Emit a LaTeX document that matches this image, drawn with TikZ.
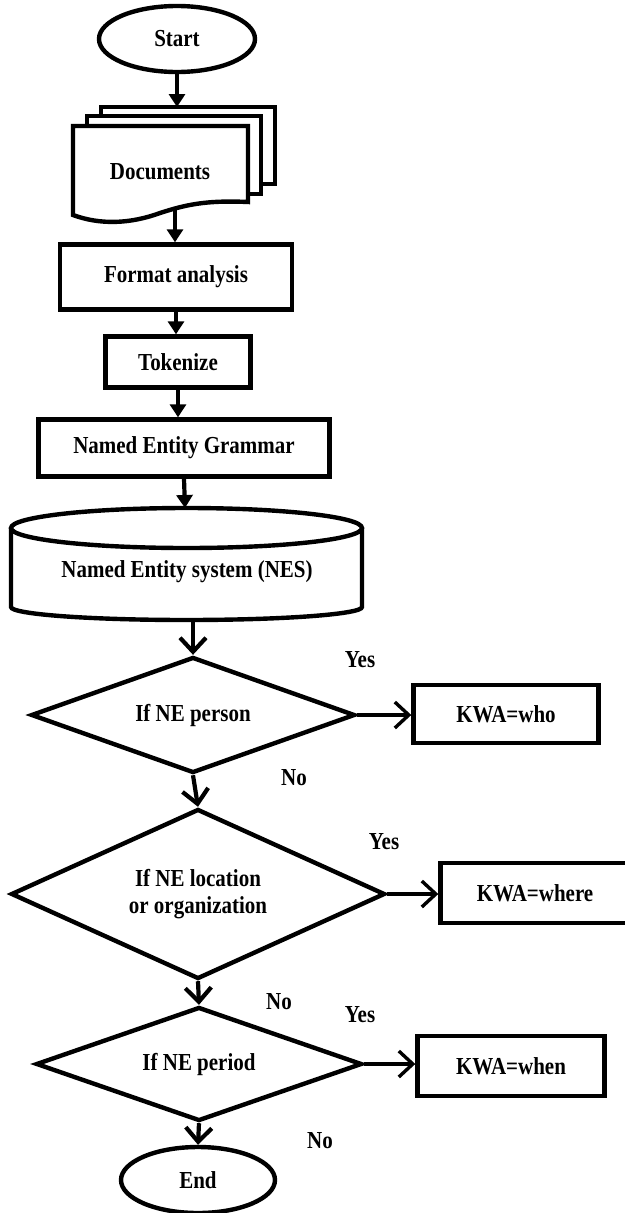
\documentclass[tikz,border=0pt]{standalone}
\usepackage{fontspec}
\setmainfont{Liberation Serif}[FakeStretch=0.86]
\usetikzlibrary{arrows.meta,shapes.geometric}

\begin{document}
\begin{tikzpicture}[x=1pt, y=-1pt,
   term/.style={ellipse, draw, line width=4.4pt, inner sep=0pt,
                font=\bfseries\fontsize{24.4}{27}\selectfont},
   proc/.style={rectangle, draw, line width=4.4pt, inner sep=0pt,
                font=\bfseries\fontsize{24.4}{27}\selectfont},
   dec/.style={diamond, draw, line width=4.4pt, inner sep=0pt, aspect=2.4,
               align=center, font=\bfseries\fontsize{24.4}{27}\selectfont},
   txt/.style={inner sep=0pt, align=center, font=\bfseries\fontsize{24.4}{27}\selectfont},
   sheet/.style={draw, fill=white, line width=4.4pt},
   flow/.style={draw, line width=4.2pt, -{Triangle[length=13pt,width=16pt]}},
   branch/.style={draw, line width=4.2pt, -{Straight Barb[length=14pt,width=26pt]}}
]
\useasboundingbox (0,0) rectangle (624,1213);

% start and documents
\node[term, minimum width=156pt, minimum height=66pt] (start) at (177,39) {Start};
\draw[sheet] (101,107) rectangle (275,184);
\draw[sheet] (87,116) rectangle (261,194);
\draw[sheet] (73,126) -- (248,126) -- (248,202)
   .. controls (205,200) and (185,205) .. (160,213)
   .. controls (130,224) and (100,225) .. (73,215) -- cycle;
\node[txt] (docs) at (160,172) {Documents};
\coordinate (docin) at (177,107);
\coordinate (docout) at (175,210);

% processing steps
\node[proc, minimum width=232pt, minimum height=65pt] (fmt) at (176,277) {Format analysis};
\node[proc, minimum width=145pt, minimum height=51pt] (tok) at (178,362) {Tokenize};
\node[proc, minimum width=291pt, minimum height=57pt] (neg) at (184,448) {Named Entity Grammar};

% NES store
\draw[sheet] (11,528) -- (11,607) arc[start angle=180, end angle=360,
   x radius=175.5pt, y radius=13pt] -- (362,528);
\draw[sheet] (186.5,528) ellipse[x radius=175.5pt, y radius=20pt];
\node[txt] (nes) at (187,572) {Named Entity system (NES)};
\coordinate (nestop) at (185,508);
\coordinate (nesbot) at (193,619);

% decisions
\node[dec, minimum width=324pt, minimum height=116pt] (d1) at (193,715) {If NE person};
\node[dec, minimum width=374pt, minimum height=170pt] (d2) at (198,894) {If NE location\\or organization};
\node[dec, minimum width=326pt, minimum height=114pt] (d3) at (199,1064) {If NE period};

\node[proc, minimum width=185pt, minimum height=58pt] (who) at (506,714) {KWA=who};
\node[proc, minimum width=189pt, minimum height=60pt] (where) at (535,893) {KWA=where};
\node[proc, minimum width=187pt, minimum height=60pt] (when) at (511,1066) {KWA=when};

\node[term, minimum width=154pt, minimum height=66pt] (end) at (198,1180) {End};

% yes / no labels
\node[txt] (yes1) at (360,660) {Yes};
\node[txt] (no1) at (294,778) {No};
\node[txt] (yes2) at (384,842) {Yes};
\node[txt] (no2) at (279,1002) {No};
\node[txt] (yes3) at (360,1015) {Yes};
\node[txt] (no3) at (320,1141) {No};

% connectors
\draw[flow] (start) -- (docin);
\draw[flow] (docout) -- (docout |- fmt.north);
\draw[flow] (fmt.south) -- (fmt.south |- tok.north);
\draw[flow] (tok.south) -- (tok.south |- neg.north);
\draw[flow] (neg.south) -- (nestop);
\draw[branch] (nesbot) -- (d1.north);
\draw[branch] (d1.south) -- (d2.north);
\draw[branch] (d2.south) -- (d3.north);
\draw[branch] (d3.south) -- (end.north);
\draw[branch, line width=3.4pt] (d1.east) -- (d1.east -| who.west);
\draw[branch, line width=3.4pt] (d2.east) -- (d2.east -| where.west);
\draw[branch, line width=3.4pt] (d3.east) -- (d3.east -| when.west);
\end{tikzpicture}
\end{document}
